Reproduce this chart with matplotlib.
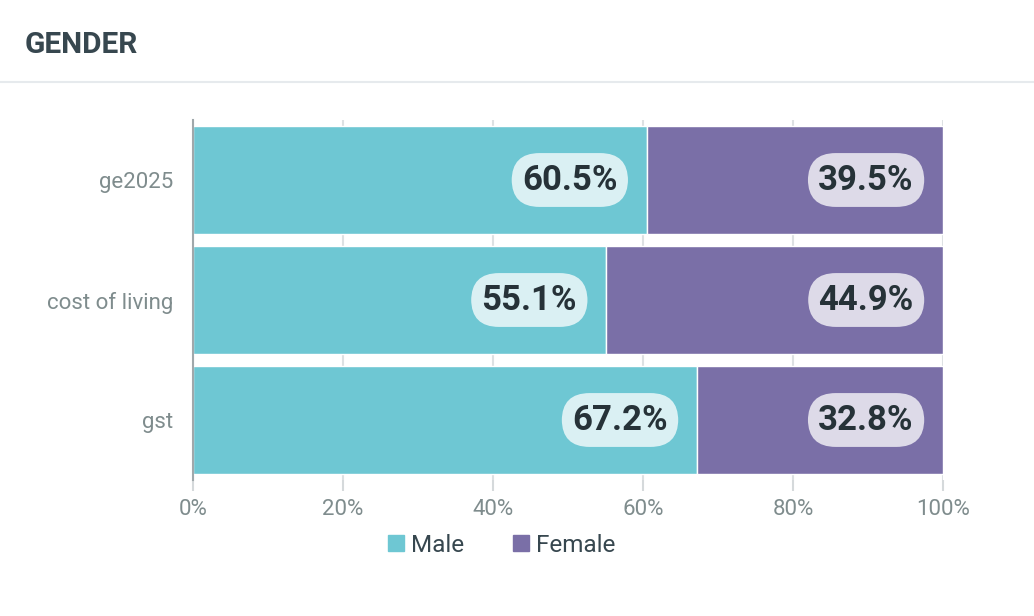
import numpy as np
import matplotlib.pyplot as plt
from matplotlib.lines import Line2D
from matplotlib.patches import Patch

plt.rcParams['font.family'] = ['Roboto', 'DejaVu Sans']

# data
topics = ["ge2025", "cost of living", "gst"]
male = [60.5, 55.1, 67.2]
female = [39.5, 44.9, 32.8]
x_ticks = [0, 20, 40, 60, 80, 100]

male_col = "#6ec7d3"
female_col = "#7a6fa7"
dark = "#263238"
grey = "#7f8c8d"

fig = plt.figure(figsize=(10.34, 6.16), dpi=100)
fig.patch.set_facecolor("white")

# header
fig.text(25 / 1034, 1 - 45 / 616, "GENDER", fontsize=21.5, fontweight="bold",
         color="#37474f", va="center", ha="left")
fig.add_artist(Line2D([0, 1], [1 - 82 / 616, 1 - 82 / 616], color="#e6eaed", lw=1.5))

ax = fig.add_axes([193 / 1034, 1 - 480 / 616, 750 / 1034, 360 / 616])
y = np.arange(len(topics))

ax.barh(y, male, height=0.9, color=male_col, edgecolor="white", linewidth=1, zorder=2)
ax.barh(y, female, left=male, height=0.9, color=female_col, edgecolor="white", linewidth=1, zorder=2)

box_m = dict(boxstyle="round,pad=0.3,rounding_size=0.8", fc="white", ec="none", alpha=0.75)
for i in range(len(topics)):
    ax.annotate(f"{male[i]}%", (male[i], y[i]), xytext=(-21, 0), textcoords="offset points",
                ha="right", va="center", fontsize=25, fontweight="bold", color=dark,
                bbox=box_m, zorder=3)
    ax.annotate(f"{female[i]}%", (100, y[i]), xytext=(-21, 0), textcoords="offset points",
                ha="right", va="center", fontsize=25, fontweight="bold", color=dark,
                bbox=box_m, zorder=3)

ax.set_xlim(0, 100)
ax.set_ylim(2.5, -0.5)
ax.set_yticks(y)
ax.set_yticklabels(topics, fontsize=16, color=grey)
ax.set_xticks(x_ticks)
ax.set_xticklabels([f"{t}%" for t in x_ticks], fontsize=16, color=grey)
ax.tick_params(axis="y", length=0, pad=14)
ax.tick_params(axis="x", length=8, color="#d5d9db", width=1.5, pad=6)
ax.grid(axis="x", color="#dde1e3", lw=1.5, zorder=0)
for s in ["top", "right", "bottom"]:
    ax.spines[s].set_visible(False)
ax.spines["left"].set_color("#a0a8ab")
ax.spines["left"].set_linewidth(1.5)

handles = [Patch(color=male_col, label="Male"), Patch(color=female_col, label="Female")]
fig.legend(handles=handles, loc="center", bbox_to_anchor=(502 / 1034, 1 - 545 / 616), ncol=2,
           frameon=False, fontsize=17.5, labelcolor="#37474f", handlelength=0.65, handleheight=0.65,
           handletextpad=0.3, columnspacing=2.0)

fig.savefig("out.png", dpi=100, facecolor="white")
